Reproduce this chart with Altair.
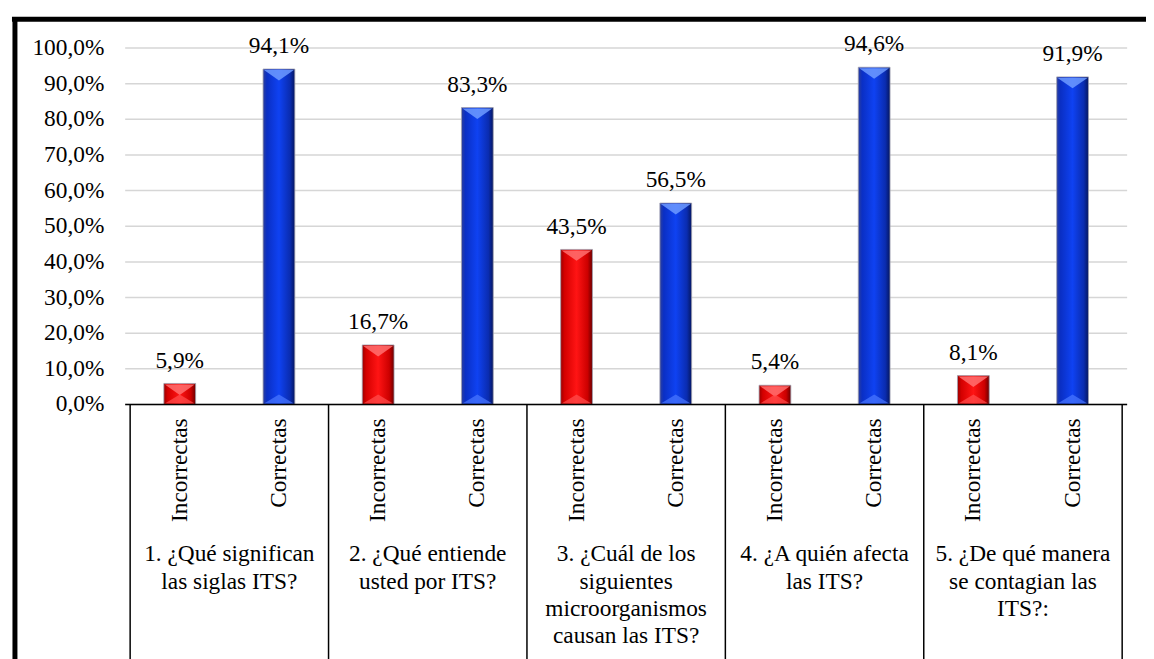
import altair as alt
import pandas as pd

# ---- data ----
questions = [
    "1. ¿Qué significan\nlas siglas ITS?",
    "2. ¿Qué entiende\nusted por ITS?",
    "3. ¿Cuál de los\nsiguientes\nmicroorganismos\ncausan las ITS?",
    "4. ¿A quién afecta\nlas ITS?",
    "5. ¿De qué manera\nse contagian las\nITS?:",
]
answers = ["Incorrectas", "Correctas"]
incorrectas = [5.9, 16.7, 43.5, 5.4, 8.1]
correctas = [94.1, 83.3, 56.5, 94.6, 91.9]
y_ticks = [0, 10, 20, 30, 40, 50, 60, 70, 80, 90, 100]

rows = []
for i, q in enumerate(questions):
    rows.append({"pos": 2 * i, "q": q, "ans": answers[0], "val": incorrectas[i]})
    rows.append({"pos": 2 * i + 1, "q": q, "ans": answers[1], "val": correctas[i]})
df = pd.DataFrame(rows)
df["zero"] = 0
groups = pd.DataFrame({"center": [2 * i + 0.5 for i in range(len(questions))], "q": questions})
bounds = pd.DataFrame({"b": [2 * i - 0.5 for i in range(len(questions) + 1)]})
ticks = pd.DataFrame({"t": y_ticks})
zero = pd.DataFrame({"v": [0]})

W, H = 1009, 359
FONT = "Liberation Serif"
FS = 23.5

xs = alt.Scale(domain=[-0.5, 2 * len(questions) - 0.5], nice=False, zero=False)
ys = alt.Scale(domain=[0, 100], nice=False)

X = lambda f: alt.X(f, scale=xs, axis=None)
Y = lambda f: alt.Y(f, scale=ys, axis=None)

base = alt.Chart(df)


def grad(stops):
    return alt.Gradient(gradient="linear", x1=0, x2=1, y1=0, y2=0,
                        stops=[alt.GradientStop(offset=o, color=c) for o, c in stops])


red = grad([(0, "#9a0000"), (0.12, "#d40000"), (0.5, "#ff1414"), (0.85, "#cc0000"), (1, "#6a0000")])
blue = grad([(0, "#2c3f9c"), (0.12, "#0a2fc4"), (0.5, "#0f42f2"), (0.85, "#0a2cb0"), (1, "#051660")])

gridlines = alt.Chart(ticks).mark_rule(color="#D6D6D6", strokeWidth=1.5).encode(
    y=Y("t:Q"), x=alt.value(0), x2=alt.value(W))

ylabels = alt.Chart(ticks).transform_calculate(
    lab="replace(format(datum.t, '.1f'), '.', ',') + '%'"
).mark_text(font=FONT, fontSize=FS, color="black", align="right", baseline="middle").encode(
    y=Y("t:Q"), x=alt.value(-21), text="lab:N")


def bars(ans, fill, light, dark):
    b = base.transform_filter(alt.datum.ans == ans)
    bar = b.mark_bar(width=32, color=fill, stroke="#a0a0b0", strokeWidth=0.8).encode(
        x=X("pos:Q"), y=Y("val:Q"))
    top = b.mark_point(shape="M-1,0L1,0L0,0.7Z", size=900, filled=True, color=light,
                       opacity=0.85, strokeWidth=0, yOffset=1).encode(
        x=X("pos:Q"), y=Y("val:Q"))
    bot = b.mark_point(shape="M-1,0L1,0L0,-0.6Z", size=900, filled=True, color=dark,
                       opacity=0.7, strokeWidth=0, yOffset=-1).encode(
        x=X("pos:Q"), y=Y("zero:Q"))
    return bar + top + bot


red_bars = bars("Incorrectas", red, "#ff7070", "#ff5050")
blue_bars = bars("Correctas", blue, "#6f9bff", "#4a78ff")

labels = base.transform_calculate(
    lab="replace(format(datum.val, '.1f'), '.', ',') + '%'"
).mark_text(font=FONT, fontSize=FS, color="black", baseline="alphabetic", dy=-16).encode(
    x=X("pos:Q"), y=Y("val:Q"), text="lab:N")

axis_line = alt.Chart(zero).mark_rule(color="black", strokeWidth=1.5).encode(
    y=Y("v:Q"), x=alt.value(0), x2=alt.value(W))

dividers = alt.Chart(bounds).mark_rule(color="black", strokeWidth=1.5).encode(
    x=X("b:Q"), y=alt.value(H), y2=alt.value(H + 300))

ans_text = base.mark_text(font=FONT, fontSize=FS, color="black", angle=270,
                          align="right", baseline="middle").encode(
    x=X("pos:Q"), y=alt.value(H + 14), text="ans:N")

q_text = alt.Chart(groups).mark_text(font=FONT, fontSize=FS, color="black", lineBreak="\n",
                                     lineHeight=27.5, align="center", baseline="alphabetic").encode(
    x=X("center:Q"), y=alt.value(H + 158), text="q:N")

frame_top = alt.Chart(zero).mark_rule(color="black", strokeWidth=5).encode(
    x=alt.value(-114), x2=alt.value(W + 40), y=alt.value(-29))
frame_left = alt.Chart(zero).mark_rule(color="black", strokeWidth=5).encode(
    x=alt.value(-111), y=alt.value(-31), y2=alt.value(H + 300))

chart = alt.layer(
    gridlines, ylabels, red_bars, blue_bars, labels, axis_line, dividers, ans_text, q_text,
    frame_top, frame_left
).properties(
    width=W, height=H,
    background="white",
    autosize=alt.AutoSizeParams(type="none"),
    padding={"left": 118, "top": 38, "right": 19, "bottom": 254},
).configure_view(strokeWidth=0)

chart.save("out.html", embed_options={"renderer": "svg", "actions": False})
